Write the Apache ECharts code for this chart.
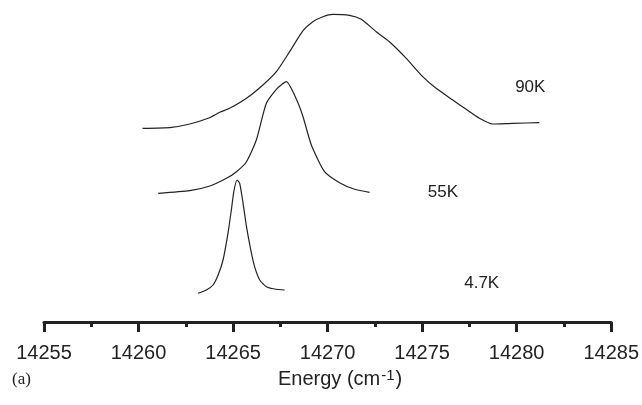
<!DOCTYPE html>
<html>
<head>
    <meta charset="utf-8" />
    <title></title>
    <script src="https://cdn.jsdelivr.net/npm/echarts@6/dist/echarts.min.js"></script>
    <style>
        html, body { margin: 0; padding: 0; background: #fff; }
        #chart { width: 642px; height: 405px; }
    </style>
</head>
<body>
    <div id="chart"></div>
    <script>
        // energy (cm-1) and intensity (arb. units, offset per temperature)
        var x90 = [14260.21, 14261.74, 14262.71, 14263.68, 14264.30, 14264.82, 14265.71, 14266.58, 14267.29, 14267.99,
            14268.70, 14269.22, 14269.75, 14270.28, 14271.16, 14271.78, 14272.57, 14273.27, 14274.16, 14275.03,
            14275.74, 14276.62, 14277.33, 14278.03, 14278.73, 14279.79, 14281.20];
        var y90 = [19.37, 19.47, 19.80, 20.37, 20.97, 21.37, 22.37, 23.70, 25.03, 27.03,
            29.13, 30.03, 30.53, 30.77, 30.67, 30.27, 29.03, 28.03, 26.37, 24.53,
            23.37, 22.20, 21.27, 20.37, 19.80, 19.87, 19.93];

        var x55 = [14261.04, 14262.71, 14263.77, 14264.65, 14265.18, 14265.71, 14266.23, 14266.76, 14267.29, 14267.82,
            14268.35, 14268.70, 14269.14, 14269.84, 14270.63, 14271.43, 14272.22];
        var y55 = [12.87, 13.13, 13.60, 14.37, 15.03, 16.03, 18.20, 21.87, 23.27, 24.03,
            22.27, 20.53, 17.70, 15.03, 13.93, 13.27, 12.97];

        var x47 = [14263.15, 14263.59, 14263.94, 14264.21, 14264.47, 14264.73, 14264.91, 14265.04, 14265.21, 14265.35,
            14265.53, 14265.71, 14265.92, 14266.14, 14266.41, 14266.76, 14267.20, 14267.73];
        var y47 = [2.87, 3.20, 3.70, 4.70, 6.20, 8.87, 11.20, 13.03, 14.20, 13.87,
            11.87, 9.53, 7.37, 5.53, 4.20, 3.53, 3.30, 3.20];

        var seriesNames = ['90K', '55K', '4.7K'];
        // label anchor for each curve [energy, intensity]
        var labelPos = [[14280.72, 23.5], [14276.10, 13.0], [14278.15, 3.9]];

        function pairs(xs, ys) {
            var out = [];
            for (var i = 0; i < xs.length; i++) out.push([xs[i], ys[i]]);
            return out;
        }

        var myChart = echarts.init(document.getElementById('chart'), null, { renderer: 'canvas' });
        var curves = [pairs(x90, y90), pairs(x55, y55), pairs(x47, y47)];

        var series = [];
        for (var i = 0; i < curves.length; i++) {
            series.push({
                name: seriesNames[i],
                type: 'line',
                data: curves[i],
                symbol: 'none',
                smooth: 0.2,
                lineStyle: { color: '#222', width: 1.2 },
                markPoint: {
                    symbol: 'circle',
                    symbolSize: 0,
                    data: [{ coord: labelPos[i], value: seriesNames[i] }],
                    label: {
                        show: true,
                        position: 'inside',
                        formatter: '{c}',
                        color: '#222',
                        fontSize: 17,
                        fontFamily: 'Liberation Sans, Arial, sans-serif'
                    }
                },
                silent: true,
                animation: false
            });
        }

        var option = {
            animation: false,
            grid: { left: 44, right: 30, top: 0, bottom: 83 },
            xAxis: {
                type: 'value',
                min: 14255,
                max: 14285,
                interval: 5,
                splitLine: { show: false },
                axisLine: { lineStyle: { color: '#222', width: 3 } },
                axisTick: { length: 10, lineStyle: { color: '#222', width: 3 } },
                minorTick: { show: true, splitNumber: 2, length: 5, lineStyle: { color: '#222', width: 3 } },
                axisLabel: {
                    margin: 21,
                    fontSize: 20,
                    color: '#222',
                    fontFamily: 'Liberation Sans, Arial, sans-serif',
                    formatter: function (v) { return String(v); }
                }
            },
            yAxis: {
                type: 'value',
                min: 0,
                max: 32.2,
                show: false
            },
            graphic: [
                {
                    type: 'text',
                    left: 12,
                    top: 371,
                    style: { text: '(a)', fill: '#222', fontSize: 17, fontFamily: 'Liberation Serif, Times New Roman, serif' }
                },
                {
                    type: 'text',
                    left: 278,
                    top: 368,
                    style: {
                        text: '{n|Energy (cm}{s|-1}{n|)}',
                        rich: {
                            n: { fontSize: 20, fill: '#222', fontFamily: 'Liberation Sans, Arial, sans-serif' },
                            s: { fontSize: 15, fill: '#222', fontFamily: 'Liberation Sans, Arial, sans-serif', verticalAlign: 'top', padding: [0, 1, 8, 1] }
                        }
                    }
                }
            ],
            series: series
        };
        myChart.setOption(option);
    </script>
</body>
</html>
